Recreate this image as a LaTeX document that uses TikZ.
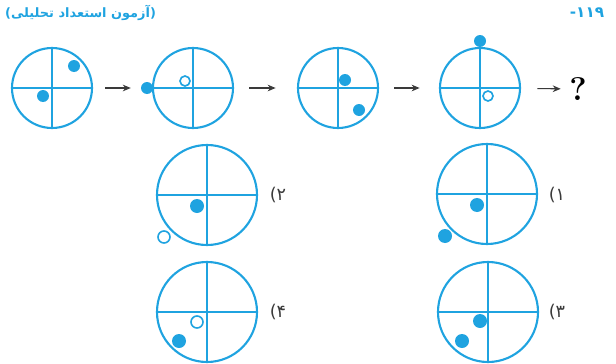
\documentclass[tikz,border=0pt]{standalone}
\usepackage{fontspec}
\usepackage{xcolor}
\usepackage{tikz}
\usetikzlibrary{arrows.meta,positioning}
\TeXXeTstate=1
\newfontfamily\persfont[Script=Arabic]{DejaVu Sans}
\definecolor{quizcyan}{HTML}{1FA3E0}
\definecolor{quizgray}{HTML}{3A3A3A}

\begin{document}
\begin{tikzpicture}[
    x=0.03cm, y=-0.03cm,
    frame/.style={circle, draw=quizcyan, line width=1.8pt, minimum size=2.4cm, inner sep=0pt},
    bigframe/.style={frame, minimum size=3cm},
    cross/.style={draw=quizcyan, line width=1.8pt},
    dot/.style={circle, fill=quizcyan, minimum size=0.36cm, inner sep=0pt},
    bigdot/.style={dot, minimum size=0.42cm},
    hole/.style={circle, draw=quizcyan, fill=white, line width=1.4pt, minimum size=0.3cm, inner sep=0pt},
    bighole/.style={hole, minimum size=0.36cm},
    arrow/.style={-{Stealth[length=2.4mm, width=2mm]}, line width=0.9pt, draw=quizgray},
    choice/.style={font=\persfont\fontsize{15}{15}\selectfont, text=quizgray, inner sep=0pt}
]
    \useasboundingbox (0,0) rectangle (616,364);

    % Header
    \node (head) [font=\persfont\bfseries\fontsize{11}{11}\selectfont, text=quizcyan, anchor=west, inner sep=0pt] at (5,13)
        {\beginR(آزمون استعداد تحلیلی)\endR};
    \node (num) [font=\persfont\bfseries\fontsize{13}{13}\selectfont, text=quizcyan] at (587,13) {۱۱۹-};

    % Sequence of frames
    \node (c1) [frame] at (52,88) {};
    \node (c2) [frame] at (193,88) {};
    \node (c3) [frame] at (338,88) {};
    \node (c4) [frame] at (480,88) {};
    \foreach \c in {c1,c2,c3,c4}
        \draw [cross] (\c.north) -- (\c.south) (\c.west) -- (\c.east);

    \node (c1a) [dot] at (74,66) {};
    \node (c1b) [dot] at (43,96) {};
    \node (c2a) [dot] at (147,88) {};
    \node (c2b) [hole] at (185,81) {};
    \node (c3a) [dot] at (345,80) {};
    \node (c3b) [dot] at (359,110) {};
    \node (c4a) [dot] at (480,41) {};
    \node (c4b) [hole] at (488,96) {};

    \node (q) [font=\bfseries\fontsize{28}{28}\selectfont, inner sep=0pt] at (578,89) {?};

    % Arrows
    \draw [arrow, shorten <=0.37cm, shorten >=0.3cm] (c1) -- (c2a);
    \draw [arrow, shorten <=0.46cm, shorten >=0.64cm] (c2) -- (c3);
    \draw [arrow, shorten <=0.46cm, shorten >=0.58cm] (c3) -- (c4);
    \draw [arrow, shorten <=0.49cm, shorten >=0.25cm] (c4) -- (q);

    % Answer choices
    \node (o1) [bigframe] at (487,194) {};
    \node (o2) [bigframe] at (207,195) {};
    \node (o3) [bigframe] at (488,312) {};
    \node (o4) [bigframe] at (207,312) {};
    \foreach \c in {o1,o2,o3,o4}
        \draw [cross] (\c.north) -- (\c.south) (\c.west) -- (\c.east);

    \node (o1a) [bigdot] at (477,205) {};
    \node (o1b) [bigdot] at (445,236) {};
    \node (o2a) [bigdot] at (197,206) {};
    \node (o2b) [bighole] at (164,237) {};
    \node (o3a) [bigdot] at (480,321) {};
    \node (o3b) [bigdot] at (462,341) {};
    \node (o4a) [bighole] at (197,322) {};
    \node (o4b) [bigdot] at (179,341) {};

    \node (l1) [choice] at (557,195) {۱)};
    \node (l2) [choice] at (278,195) {۲)};
    \node (l3) [choice] at (557,312) {۳)};
    \node (l4) [choice] at (278,312) {۴)};
\end{tikzpicture}
\end{document}
